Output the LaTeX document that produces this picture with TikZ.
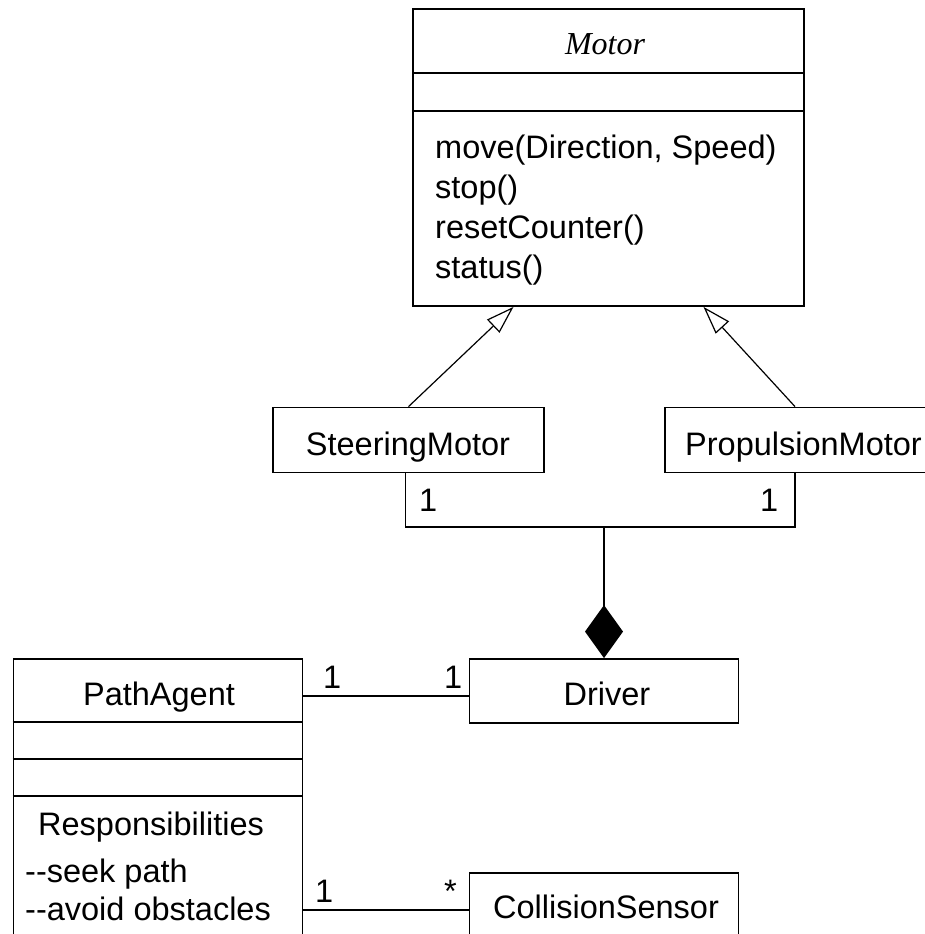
\documentclass[tikz,border=0pt]{standalone}
\usepackage{fontspec}
\setmainfont{Liberation Sans}
\newfontfamily\titlefont{Liberation Serif}
\usetikzlibrary{arrows.meta,calc}

\begin{document}
\begin{tikzpicture}[x=1pt,y=-1pt,
  every node/.style={font=\fontsize{32.5}{40}\selectfont},
  box/.style={draw, line width=1.8pt, rectangle, inner sep=0pt},
  txt/.style={inner sep=0pt, anchor=base},
  lbl/.style={inner sep=0pt, anchor=base west},
  line/.style={line width=1.6pt},
  gen/.style={line width=1.2pt, -{Triangle[open, length=28pt, width=18pt, fill=white]}},
  comp/.style={line width=1.6pt, {Diamond[length=53pt, width=38pt]}-}]
\useasboundingbox (0,0) rectangle (925,934);
\clip (0,0) rectangle (925,934);

% abstract class Motor
\node[box, minimum width=391pt, minimum height=297pt] (motor) at (608.5,157.5) {};
\draw[line] ($(motor.north west)+(0,65)$) -- ($(motor.north east)+(0,65)$);
\draw[line] ($(motor.north west)+(0,103)$) -- ($(motor.north east)+(0,103)$);
\node[txt, font=\fontsize{32}{40}\titlefont\itshape] (motorname) at (605,55) {Motor};
\node[lbl] (op1) at (435,158) {move(Direction, Speed)};
\node[lbl] (op2) at (435,198) {stop()};
\node[lbl] (op3) at (435,238) {resetCounter()};
\node[lbl] (op4) at (435,278) {status()};

% subclasses
\node[box, minimum width=271pt, minimum height=65pt] (steer) at (408.5,440) {};
\node[txt] (steername) at (408,455) {SteeringMotor};
\node[box, minimum width=270pt, minimum height=65pt] (prop) at (800,440) {};
\node[lbl] (propname) at (685,455) {PropulsionMotor};

\draw[gen] (steer.north) -- ([xshift=-95pt]motor.south);
\draw[gen] ([xshift=-5pt]prop.north) -- ([xshift=95pt]motor.south);

% Driver and its composition of motors
\node[box, minimum width=269pt, minimum height=64pt] (driver) at (604,691) {};
\node[txt] (drivername) at (607,705) {Driver};
\coordinate (hub) at ($(driver.north)+(0,-131)$);
\draw[line] ([xshift=-3pt]steer.south) |- (hub) -| ([xshift=-5pt]prop.south);
\draw[comp] (driver.north) -- (hub);
\node[lbl] (m1) at (419,511) {1};
\node[lbl] (m2) at (760,511) {1};

% PathAgent
\node[box, minimum width=289pt, minimum height=300pt] (pa) at (158,809) {};
\draw[line] ($(pa.north west)+(0,64)$) -- ($(pa.north east)+(0,64)$);
\draw[line] ($(pa.north west)+(0,101)$) -- ($(pa.north east)+(0,101)$);
\draw[line] ($(pa.north west)+(0,138)$) -- ($(pa.north east)+(0,138)$);
\node[txt] (paname) at (159,705) {PathAgent};
\node[lbl] (resp) at (38,835) {Responsibilities};
\node[lbl] (r1) at (25,882) {-{}-seek path};
\node[lbl] (r2) at (25,920) {-{}-avoid obstacles};

% CollisionSensor
\node[box, minimum width=269pt, minimum height=74pt] (cs) at (604,910) {};
\node[txt] (csname) at (606,918) {CollisionSensor};

% associations
\coordinate (dw) at ([yshift=-5pt]driver.west);
\draw[line] (dw) -- (dw -| pa.east);
\node[lbl] (m3) at (323,688) {1};
\node[lbl] (m4) at (444,688) {1};
\draw[line] (cs.west) -- (cs.west -| pa.east);
\node[lbl] (m5) at (315,902) {1};
\node[lbl] (m6) at (444,902) {*};
\end{tikzpicture}
\end{document}
